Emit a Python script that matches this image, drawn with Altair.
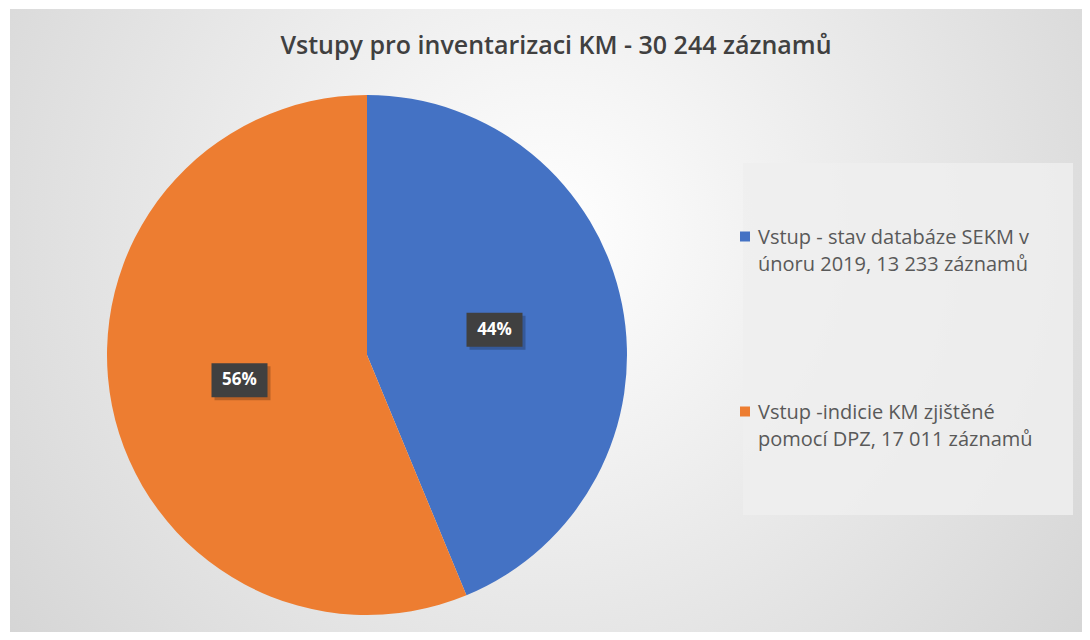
import altair as alt
import pandas as pd

# ---- data ----
categories = [
    "Vstup - stav databáze SEKM v|únoru 2019, 13 233 záznamů",
    "Vstup -indicie KM zjištěné|pomocí DPZ, 17 011 záznamů",
]
values = [13233, 17011]
order = [1, 2]
colors = ["#4472C4", "#ED7D31"]
title_text = "Vstupy pro inventarizaci KM  - 30 244 záznamů"

df = pd.DataFrame({"category": categories, "value": values, "ord": order})

# ---- layout constants ----
W, H = 1074, 624
CX, CY, R = 359, 347, 260
LR = 130  # label radius
BW, BH = 56, 34
FONT = "Open Sans"
LEG_X, LEG_Y0, LEG_STEP = 737, 228.5, 175

color_scale = alt.Scale(domain=categories, range=colors)

bg = alt.Chart(pd.DataFrame({"a": [0]})).mark_rect(
    fill=alt.RadialGradient(
        gradient="radial",
        stops=[alt.GradientStop(offset=0, color="#ffffff"),
               alt.GradientStop(offset=1, color="#cdcdcd")],
        x1=0.5, y1=0.42, r1=0, x2=0.5, y2=0.42, r2=0.75,
    )
).encode(x=alt.value(2), x2=alt.value(W), y=alt.value(1), y2=alt.value(H))

legend_box = alt.Chart(pd.DataFrame({"a": [0]})).mark_rect(
    fill="#eeeeee", opacity=0.85
).encode(x=alt.value(735), x2=alt.value(1065), y=alt.value(155), y2=alt.value(507))

title = alt.Chart(pd.DataFrame({"t": [title_text]})).mark_text(
    font=FONT, fontSize=25, fontWeight=600, color="#404040",
    align="center", baseline="middle"
).encode(x=alt.value(548), y=alt.value(38), text="t:N")

pie = alt.Chart(df).mark_arc(radius=R).encode(
    theta=alt.Theta("value:Q", stack=True),
    order=alt.Order("ord:Q"),
    color=alt.Color("category:N", scale=color_scale, legend=None),
    x=alt.value(CX), y=alt.value(CY),
)

pos = alt.Chart(df).transform_joinaggregate(total="sum(value)").transform_window(
    cum="sum(value)", sort=[alt.SortField("ord")]
).transform_calculate(
    mid="(datum.cum - datum.value/2) / datum.total * 2 * PI",
    pct="format(datum.value / datum.total, '.0%')",
).transform_calculate(
    px=f"{CX} + {LR} * sin(datum.mid)",
    py=f"{CY} - {LR} * cos(datum.mid)",
).transform_calculate(
    x1=f"datum.px - {BW/2}", x2=f"datum.px + {BW/2}",
    y1=f"datum.py - {BH/2}", y2=f"datum.py + {BH/2}",
    sx1=f"datum.px - {BW/2} + 3", sx2=f"datum.px + {BW/2} + 3",
    sy1=f"datum.py - {BH/2} + 3", sy2=f"datum.py + {BH/2} + 3",
)

shadow = pos.mark_rect(fill="#000000", opacity=0.22).encode(
    x=alt.X("sx1:Q", scale=None), x2="sx2:Q",
    y=alt.Y("sy1:Q", scale=None), y2="sy2:Q",
)
boxes = pos.mark_rect(fill="#404040").encode(
    x=alt.X("x1:Q", scale=None), x2="x2:Q",
    y=alt.Y("y1:Q", scale=None), y2="y2:Q",
)
labels = pos.mark_text(
    font=FONT, fontSize=17, fontWeight="bold", color="#ffffff",
    align="center", baseline="middle"
).encode(
    x=alt.X("px:Q", scale=None), y=alt.Y("py:Q", scale=None), text="pct:N"
)

# ---- manual legend ----
leg = alt.Chart(df).transform_calculate(
    ly=f"{LEG_Y0} + (datum.ord - 1) * {LEG_STEP}",
    ty=f"{LEG_Y0} + (datum.ord - 1) * {LEG_STEP} + 7",
    lines="split(datum.category, '|')",
)
leg_sym = leg.mark_square(size=100, filled=True, opacity=1).encode(
    x=alt.value(LEG_X),
    y=alt.Y("ly:Q", scale=None),
    color=alt.Color("category:N", scale=color_scale, legend=None),
)
leg_txt = leg.mark_text(
    font=FONT, fontSize=20, color="#595959", align="left",
    baseline="alphabetic", lineHeight=27,
).encode(
    x=alt.value(LEG_X + 13),
    y=alt.Y("ty:Q", scale=None),
    text="lines:N",
)

chart = alt.layer(
    bg, legend_box, title, pie, shadow, boxes, labels, leg_sym, leg_txt
).properties(
    width=W, height=H, padding=0, autosize="none", background="#ffffff"
).configure_view(stroke=None)

chart.save("out.html", embed_options={"renderer": "svg", "actions": False})
